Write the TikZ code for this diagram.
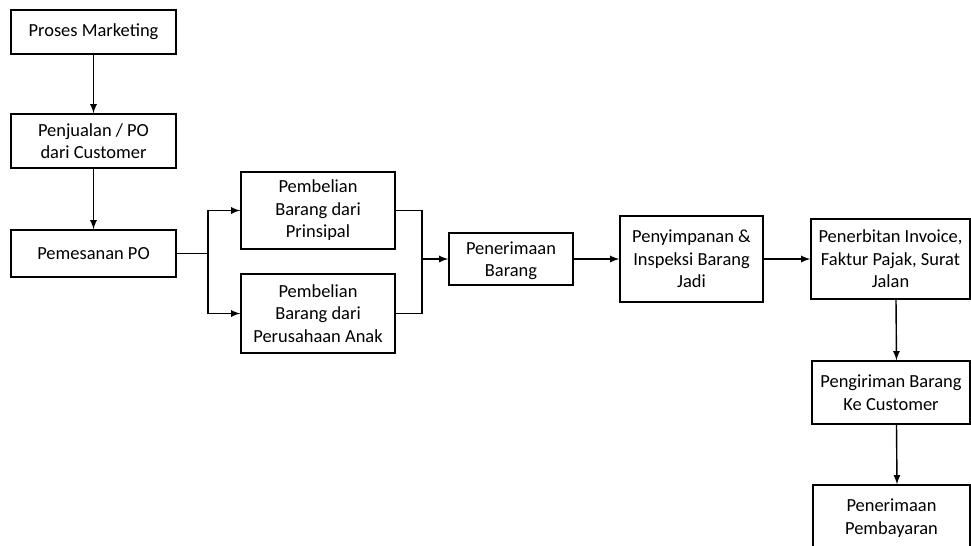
\documentclass[tikz,border=0pt]{standalone}
\usepackage{fontspec}
\setmainfont{Carlito}
\usepackage{tikz}

\begin{document}
\begin{tikzpicture}[x=0.02cm,y=-0.02cm,>=latex,line width=0.8pt,
        proc/.style={draw,shape=rectangle,align=center,inner sep=1pt,font=\fontsize{10.5}{12.8}\selectfont}]
        \useasboundingbox (0,0) rectangle (971,545);
        \draw (93.5,32) node (M) [proc,minimum height=0.88cm,minimum width=3.3cm] {Proses Marketing};
        \draw (93.5,141) node (J) [proc,minimum height=1.08cm,minimum width=3.3cm] {Penjualan / PO\\dari Customer};
        \draw (93.5,253.5) node (P) [proc,minimum height=0.94cm,minimum width=3.3cm] {Pemesanan PO};
        \draw (318,210.5) node (B1) [proc,minimum height=1.54cm,minimum width=3.08cm] {Pembelian\\Barang dari\\Prinsipal};
        \draw (318,313.5) node (B2) [proc,minimum height=1.58cm,minimum width=3.08cm] {Pembelian\\Barang dari\\Perusahaan Anak};
        \draw (511,259) node (R) [proc,minimum height=1.04cm,minimum width=2.48cm,text depth=0pt] {Penerimaan\\Barang};
        \draw (691.5,259) node (S) [proc,minimum height=1.72cm,minimum width=2.86cm] {Penyimpanan \&\\Inspeksi Barang\\Jadi};
        \draw (890.5,259) node (F) [proc,minimum height=1.6cm,minimum width=3.18cm] {Penerbitan Invoice,\\Faktur Pajak, Surat\\Jalan};
        \draw (891,392.5) node (K) [proc,minimum height=1.26cm,minimum width=3.16cm] {Pengiriman Barang\\Ke Customer};
        \draw (891.5,518) node (T) [proc,minimum height=1.32cm,minimum width=3.14cm] {Penerimaan\\Pembayaran};
        % alur utama
        \draw[->] (M) -- (J);
        \draw[->] (J) -- (P);
        % cabang pembelian
        \coordinate (c1) at (208,253.5);
        \coordinate (c2) at (422,259);
        \draw (P) -- (c1);
        \draw[->] (c1) |- (B1);
        \draw[->] (c1) |- (B2);
        \draw (B1) -| (c2);
        \draw (B2) -| (c2);
        \draw[->] (c2) -- (R);
        \draw[->] (R) -- (S);
        \draw[->] (S) -- (F);
        \draw[->] ([xshift=0.11cm]F.south) -- ([xshift=0.11cm]K.north);
        \draw[->] ([xshift=0.11cm]K.south) -- ([xshift=0.11cm]T.north);
\end{tikzpicture}
\end{document}
